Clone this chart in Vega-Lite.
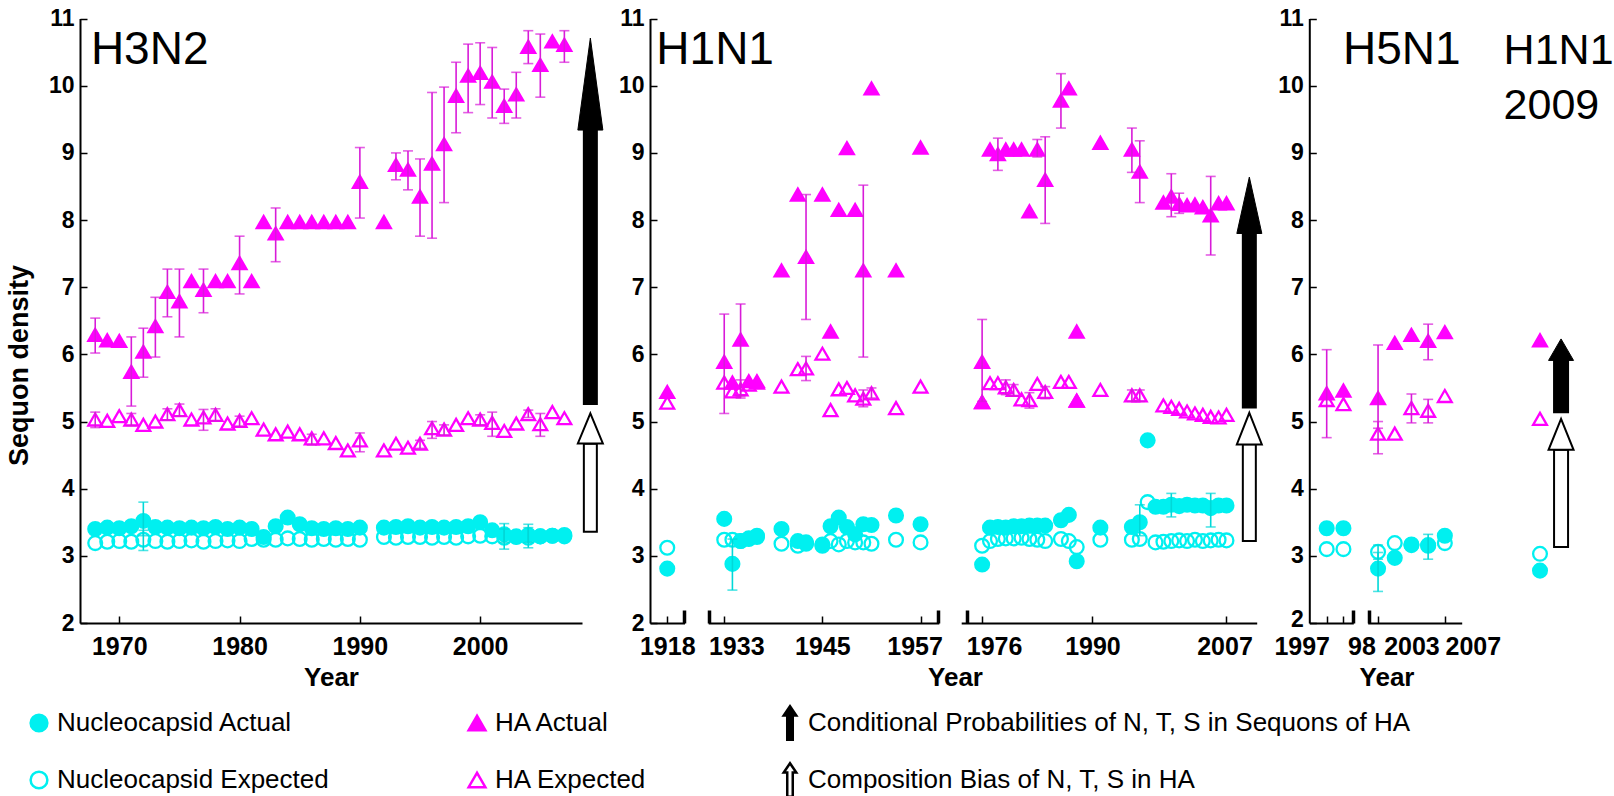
{
"$schema": "https://vega.github.io/schema/vega-lite/v6.json",
"width": 1614, "height": 623,
"autosize": {"type": "none"},
"padding": {"left": 0, "top": 0, "right": 0, "bottom": 173},
"background": "white",
"config": {
  "font": "Liberation Sans",
  "view": {"stroke": null},
  "axis": {"grid": false, "domainColor": "black", "domainWidth": 2, "tickColor": "black", "tickWidth": 1.5, "tickSize": -7,
           "labelColor": "black", "labelFontWeight": "bold", "labelOverlap": false, "labelFlush": false, "labelBound": false,
           "titleColor": "black", "titleFontWeight": "bold", "titleFontSize": 26},
  "axisX": {"labelFontSize": 25, "labelPadding": 18, "labelBaseline": "top"},
  "axisY": {"labelFontSize": 23, "labelPadding": 13}
},
"datasets": {
"points": [
{"virus":"H3N2","series":"Nucleocapsid Expected","year":1968,"value":3.19},
{"virus":"H3N2","series":"Nucleocapsid Expected","year":1969,"value":3.21},
{"virus":"H3N2","series":"Nucleocapsid Expected","year":1970,"value":3.22},
{"virus":"H3N2","series":"Nucleocapsid Expected","year":1971,"value":3.21},
{"virus":"H3N2","series":"Nucleocapsid Expected","year":1972,"value":3.24,"low":3.08,"high":3.38},
{"virus":"H3N2","series":"Nucleocapsid Expected","year":1973,"value":3.22},
{"virus":"H3N2","series":"Nucleocapsid Expected","year":1974,"value":3.21},
{"virus":"H3N2","series":"Nucleocapsid Expected","year":1975,"value":3.22},
{"virus":"H3N2","series":"Nucleocapsid Expected","year":1976,"value":3.23},
{"virus":"H3N2","series":"Nucleocapsid Expected","year":1977,"value":3.21},
{"virus":"H3N2","series":"Nucleocapsid Expected","year":1978,"value":3.22},
{"virus":"H3N2","series":"Nucleocapsid Expected","year":1979,"value":3.23},
{"virus":"H3N2","series":"Nucleocapsid Expected","year":1980,"value":3.22},
{"virus":"H3N2","series":"Nucleocapsid Expected","year":1981,"value":3.25},
{"virus":"H3N2","series":"Nucleocapsid Expected","year":1982,"value":3.24},
{"virus":"H3N2","series":"Nucleocapsid Expected","year":1983,"value":3.24},
{"virus":"H3N2","series":"Nucleocapsid Expected","year":1984,"value":3.26},
{"virus":"H3N2","series":"Nucleocapsid Expected","year":1985,"value":3.25},
{"virus":"H3N2","series":"Nucleocapsid Expected","year":1986,"value":3.24},
{"virus":"H3N2","series":"Nucleocapsid Expected","year":1987,"value":3.25},
{"virus":"H3N2","series":"Nucleocapsid Expected","year":1988,"value":3.24},
{"virus":"H3N2","series":"Nucleocapsid Expected","year":1989,"value":3.25},
{"virus":"H3N2","series":"Nucleocapsid Expected","year":1990,"value":3.24},
{"virus":"H3N2","series":"Nucleocapsid Expected","year":1992,"value":3.28},
{"virus":"H3N2","series":"Nucleocapsid Expected","year":1993,"value":3.27},
{"virus":"H3N2","series":"Nucleocapsid Expected","year":1994,"value":3.28},
{"virus":"H3N2","series":"Nucleocapsid Expected","year":1995,"value":3.28},
{"virus":"H3N2","series":"Nucleocapsid Expected","year":1996,"value":3.27},
{"virus":"H3N2","series":"Nucleocapsid Expected","year":1997,"value":3.28},
{"virus":"H3N2","series":"Nucleocapsid Expected","year":1998,"value":3.27},
{"virus":"H3N2","series":"Nucleocapsid Expected","year":1999,"value":3.29},
{"virus":"H3N2","series":"Nucleocapsid Expected","year":2000,"value":3.30},
{"virus":"H3N2","series":"Nucleocapsid Expected","year":2001,"value":3.29},
{"virus":"H3N2","series":"Nucleocapsid Expected","year":2002,"value":3.27,"low":3.10,"high":3.40},
{"virus":"H3N2","series":"Nucleocapsid Expected","year":2003,"value":3.28},
{"virus":"H3N2","series":"Nucleocapsid Expected","year":2004,"value":3.27,"low":3.12,"high":3.42},
{"virus":"H3N2","series":"Nucleocapsid Expected","year":2005,"value":3.29},
{"virus":"H3N2","series":"Nucleocapsid Expected","year":2006,"value":3.30},
{"virus":"H3N2","series":"Nucleocapsid Expected","year":2007,"value":3.29},
{"virus":"H3N2","series":"Nucleocapsid Actual","year":1968,"value":3.40},
{"virus":"H3N2","series":"Nucleocapsid Actual","year":1969,"value":3.42},
{"virus":"H3N2","series":"Nucleocapsid Actual","year":1970,"value":3.41},
{"virus":"H3N2","series":"Nucleocapsid Actual","year":1971,"value":3.44},
{"virus":"H3N2","series":"Nucleocapsid Actual","year":1972,"value":3.52,"low":3.30,"high":3.80},
{"virus":"H3N2","series":"Nucleocapsid Actual","year":1973,"value":3.43},
{"virus":"H3N2","series":"Nucleocapsid Actual","year":1974,"value":3.42},
{"virus":"H3N2","series":"Nucleocapsid Actual","year":1975,"value":3.41},
{"virus":"H3N2","series":"Nucleocapsid Actual","year":1976,"value":3.42},
{"virus":"H3N2","series":"Nucleocapsid Actual","year":1977,"value":3.41},
{"virus":"H3N2","series":"Nucleocapsid Actual","year":1978,"value":3.43},
{"virus":"H3N2","series":"Nucleocapsid Actual","year":1979,"value":3.40},
{"virus":"H3N2","series":"Nucleocapsid Actual","year":1980,"value":3.42},
{"virus":"H3N2","series":"Nucleocapsid Actual","year":1981,"value":3.40},
{"virus":"H3N2","series":"Nucleocapsid Actual","year":1982,"value":3.28},
{"virus":"H3N2","series":"Nucleocapsid Actual","year":1983,"value":3.44},
{"virus":"H3N2","series":"Nucleocapsid Actual","year":1984,"value":3.57},
{"virus":"H3N2","series":"Nucleocapsid Actual","year":1985,"value":3.47},
{"virus":"H3N2","series":"Nucleocapsid Actual","year":1986,"value":3.41},
{"virus":"H3N2","series":"Nucleocapsid Actual","year":1987,"value":3.40},
{"virus":"H3N2","series":"Nucleocapsid Actual","year":1988,"value":3.41},
{"virus":"H3N2","series":"Nucleocapsid Actual","year":1989,"value":3.40},
{"virus":"H3N2","series":"Nucleocapsid Actual","year":1990,"value":3.42},
{"virus":"H3N2","series":"Nucleocapsid Actual","year":1992,"value":3.42},
{"virus":"H3N2","series":"Nucleocapsid Actual","year":1993,"value":3.43},
{"virus":"H3N2","series":"Nucleocapsid Actual","year":1994,"value":3.44},
{"virus":"H3N2","series":"Nucleocapsid Actual","year":1995,"value":3.42},
{"virus":"H3N2","series":"Nucleocapsid Actual","year":1996,"value":3.43},
{"virus":"H3N2","series":"Nucleocapsid Actual","year":1997,"value":3.42},
{"virus":"H3N2","series":"Nucleocapsid Actual","year":1998,"value":3.43},
{"virus":"H3N2","series":"Nucleocapsid Actual","year":1999,"value":3.44},
{"virus":"H3N2","series":"Nucleocapsid Actual","year":2000,"value":3.50},
{"virus":"H3N2","series":"Nucleocapsid Actual","year":2001,"value":3.38},
{"virus":"H3N2","series":"Nucleocapsid Actual","year":2002,"value":3.32,"low":3.20,"high":3.48},
{"virus":"H3N2","series":"Nucleocapsid Actual","year":2003,"value":3.29},
{"virus":"H3N2","series":"Nucleocapsid Actual","year":2004,"value":3.31,"low":3.20,"high":3.47},
{"virus":"H3N2","series":"Nucleocapsid Actual","year":2005,"value":3.29},
{"virus":"H3N2","series":"Nucleocapsid Actual","year":2006,"value":3.30},
{"virus":"H3N2","series":"Nucleocapsid Actual","year":2007,"value":3.31},
{"virus":"H3N2","series":"HA Expected","year":1968,"value":5.03,"low":4.91,"high":5.14},
{"virus":"H3N2","series":"HA Expected","year":1969,"value":5.01},
{"virus":"H3N2","series":"HA Expected","year":1970,"value":5.08},
{"virus":"H3N2","series":"HA Expected","year":1971,"value":5.03,"low":4.94,"high":5.12},
{"virus":"H3N2","series":"HA Expected","year":1972,"value":4.95},
{"virus":"H3N2","series":"HA Expected","year":1973,"value":5.00},
{"virus":"H3N2","series":"HA Expected","year":1974,"value":5.11,"low":5.02,"high":5.19},
{"virus":"H3N2","series":"HA Expected","year":1975,"value":5.17,"low":5.08,"high":5.26},
{"virus":"H3N2","series":"HA Expected","year":1976,"value":5.03},
{"virus":"H3N2","series":"HA Expected","year":1977,"value":5.06,"low":4.87,"high":5.18},
{"virus":"H3N2","series":"HA Expected","year":1978,"value":5.10,"low":5.01,"high":5.19},
{"virus":"H3N2","series":"HA Expected","year":1979,"value":4.97},
{"virus":"H3N2","series":"HA Expected","year":1980,"value":5.01,"low":4.93,"high":5.08},
{"virus":"H3N2","series":"HA Expected","year":1981,"value":5.05},
{"virus":"H3N2","series":"HA Expected","year":1982,"value":4.88},
{"virus":"H3N2","series":"HA Expected","year":1983,"value":4.81},
{"virus":"H3N2","series":"HA Expected","year":1984,"value":4.85},
{"virus":"H3N2","series":"HA Expected","year":1985,"value":4.81},
{"virus":"H3N2","series":"HA Expected","year":1986,"value":4.75,"low":4.65,"high":4.81},
{"virus":"H3N2","series":"HA Expected","year":1987,"value":4.75},
{"virus":"H3N2","series":"HA Expected","year":1988,"value":4.68},
{"virus":"H3N2","series":"HA Expected","year":1989,"value":4.57},
{"virus":"H3N2","series":"HA Expected","year":1990,"value":4.72,"low":4.55,"high":4.83},
{"virus":"H3N2","series":"HA Expected","year":1992,"value":4.57},
{"virus":"H3N2","series":"HA Expected","year":1993,"value":4.67},
{"virus":"H3N2","series":"HA Expected","year":1994,"value":4.61},
{"virus":"H3N2","series":"HA Expected","year":1995,"value":4.67,"low":4.60,"high":4.72},
{"virus":"H3N2","series":"HA Expected","year":1996,"value":4.90,"low":4.75,"high":5.00},
{"virus":"H3N2","series":"HA Expected","year":1997,"value":4.88,"low":4.80,"high":4.95},
{"virus":"H3N2","series":"HA Expected","year":1998,"value":4.95},
{"virus":"H3N2","series":"HA Expected","year":1999,"value":5.05},
{"virus":"H3N2","series":"HA Expected","year":2000,"value":5.03,"low":4.95,"high":5.10},
{"virus":"H3N2","series":"HA Expected","year":2001,"value":4.98,"low":4.78,"high":5.14},
{"virus":"H3N2","series":"HA Expected","year":2002,"value":4.86},
{"virus":"H3N2","series":"HA Expected","year":2003,"value":4.97},
{"virus":"H3N2","series":"HA Expected","year":2004,"value":5.11,"low":5.06,"high":5.17},
{"virus":"H3N2","series":"HA Expected","year":2005,"value":4.96,"low":4.78,"high":5.12},
{"virus":"H3N2","series":"HA Expected","year":2006,"value":5.14},
{"virus":"H3N2","series":"HA Expected","year":2007,"value":5.05},
{"virus":"H3N2","series":"HA Actual","year":1968,"value":6.29,"low":6.02,"high":6.54},
{"virus":"H3N2","series":"HA Actual","year":1969,"value":6.21},
{"virus":"H3N2","series":"HA Actual","year":1970,"value":6.20},
{"virus":"H3N2","series":"HA Actual","year":1971,"value":5.74,"low":5.23,"high":6.26},
{"virus":"H3N2","series":"HA Actual","year":1972,"value":6.04,"low":5.66,"high":6.39},
{"virus":"H3N2","series":"HA Actual","year":1973,"value":6.42,"low":5.96,"high":6.85},
{"virus":"H3N2","series":"HA Actual","year":1974,"value":6.93,"low":6.56,"high":7.27},
{"virus":"H3N2","series":"HA Actual","year":1975,"value":6.79,"low":6.26,"high":7.27},
{"virus":"H3N2","series":"HA Actual","year":1976,"value":7.09},
{"virus":"H3N2","series":"HA Actual","year":1977,"value":6.96,"low":6.62,"high":7.27},
{"virus":"H3N2","series":"HA Actual","year":1978,"value":7.09},
{"virus":"H3N2","series":"HA Actual","year":1979,"value":7.09},
{"virus":"H3N2","series":"HA Actual","year":1980,"value":7.36,"low":6.90,"high":7.76},
{"virus":"H3N2","series":"HA Actual","year":1981,"value":7.09},
{"virus":"H3N2","series":"HA Actual","year":1982,"value":7.97},
{"virus":"H3N2","series":"HA Actual","year":1983,"value":7.80,"low":7.38,"high":8.18},
{"virus":"H3N2","series":"HA Actual","year":1984,"value":7.97},
{"virus":"H3N2","series":"HA Actual","year":1985,"value":7.97},
{"virus":"H3N2","series":"HA Actual","year":1986,"value":7.97},
{"virus":"H3N2","series":"HA Actual","year":1987,"value":7.97},
{"virus":"H3N2","series":"HA Actual","year":1988,"value":7.97},
{"virus":"H3N2","series":"HA Actual","year":1989,"value":7.97},
{"virus":"H3N2","series":"HA Actual","year":1990,"value":8.57,"low":8.03,"high":9.08},
{"virus":"H3N2","series":"HA Actual","year":1992,"value":7.97},
{"virus":"H3N2","series":"HA Actual","year":1993,"value":8.82,"low":8.60,"high":9.00},
{"virus":"H3N2","series":"HA Actual","year":1994,"value":8.75,"low":8.45,"high":9.03},
{"virus":"H3N2","series":"HA Actual","year":1995,"value":8.35,"low":7.76,"high":8.91},
{"virus":"H3N2","series":"HA Actual","year":1996,"value":8.84,"low":7.73,"high":9.90},
{"virus":"H3N2","series":"HA Actual","year":1997,"value":9.13,"low":8.26,"high":9.98},
{"virus":"H3N2","series":"HA Actual","year":1998,"value":9.85,"low":9.30,"high":10.35},
{"virus":"H3N2","series":"HA Actual","year":1999,"value":10.15,"low":9.60,"high":10.62},
{"virus":"H3N2","series":"HA Actual","year":2000,"value":10.19,"low":9.72,"high":10.64},
{"virus":"H3N2","series":"HA Actual","year":2001,"value":10.06,"low":9.52,"high":10.57},
{"virus":"H3N2","series":"HA Actual","year":2002,"value":9.70,"low":9.44,"high":9.95},
{"virus":"H3N2","series":"HA Actual","year":2003,"value":9.87,"low":9.52,"high":10.20},
{"virus":"H3N2","series":"HA Actual","year":2004,"value":10.58,"low":10.33,"high":10.82},
{"virus":"H3N2","series":"HA Actual","year":2005,"value":10.31,"low":9.83,"high":10.77},
{"virus":"H3N2","series":"HA Actual","year":2006,"value":10.66},
{"virus":"H3N2","series":"HA Actual","year":2007,"value":10.61,"low":10.35,"high":10.82},
{"virus":"H1N1","series":"Nucleocapsid Expected","year":1918,"value":3.12},
{"virus":"H1N1","series":"Nucleocapsid Expected","year":1933,"value":3.24},
{"virus":"H1N1","series":"Nucleocapsid Expected","year":1934,"value":3.24},
{"virus":"H1N1","series":"Nucleocapsid Expected","year":1935,"value":3.22},
{"virus":"H1N1","series":"Nucleocapsid Expected","year":1936,"value":3.26},
{"virus":"H1N1","series":"Nucleocapsid Expected","year":1937,"value":3.28},
{"virus":"H1N1","series":"Nucleocapsid Expected","year":1940,"value":3.18},
{"virus":"H1N1","series":"Nucleocapsid Expected","year":1942,"value":3.15},
{"virus":"H1N1","series":"Nucleocapsid Expected","year":1943,"value":3.18},
{"virus":"H1N1","series":"Nucleocapsid Expected","year":1945,"value":3.15},
{"virus":"H1N1","series":"Nucleocapsid Expected","year":1946,"value":3.22},
{"virus":"H1N1","series":"Nucleocapsid Expected","year":1947,"value":3.17},
{"virus":"H1N1","series":"Nucleocapsid Expected","year":1948,"value":3.22},
{"virus":"H1N1","series":"Nucleocapsid Expected","year":1949,"value":3.20},
{"virus":"H1N1","series":"Nucleocapsid Expected","year":1950,"value":3.20},
{"virus":"H1N1","series":"Nucleocapsid Expected","year":1951,"value":3.18},
{"virus":"H1N1","series":"Nucleocapsid Expected","year":1954,"value":3.24},
{"virus":"H1N1","series":"Nucleocapsid Expected","year":1957,"value":3.20},
{"virus":"H1N1","series":"Nucleocapsid Expected","year":1976,"value":3.15},
{"virus":"H1N1","series":"Nucleocapsid Expected","year":1977,"value":3.22},
{"virus":"H1N1","series":"Nucleocapsid Expected","year":1978,"value":3.25},
{"virus":"H1N1","series":"Nucleocapsid Expected","year":1979,"value":3.26},
{"virus":"H1N1","series":"Nucleocapsid Expected","year":1980,"value":3.26},
{"virus":"H1N1","series":"Nucleocapsid Expected","year":1981,"value":3.27},
{"virus":"H1N1","series":"Nucleocapsid Expected","year":1982,"value":3.25},
{"virus":"H1N1","series":"Nucleocapsid Expected","year":1983,"value":3.24},
{"virus":"H1N1","series":"Nucleocapsid Expected","year":1984,"value":3.22},
{"virus":"H1N1","series":"Nucleocapsid Expected","year":1986,"value":3.25},
{"virus":"H1N1","series":"Nucleocapsid Expected","year":1987,"value":3.22},
{"virus":"H1N1","series":"Nucleocapsid Expected","year":1988,"value":3.13},
{"virus":"H1N1","series":"Nucleocapsid Expected","year":1991,"value":3.24},
{"virus":"H1N1","series":"Nucleocapsid Expected","year":1995,"value":3.24},
{"virus":"H1N1","series":"Nucleocapsid Expected","year":1996,"value":3.25},
{"virus":"H1N1","series":"Nucleocapsid Expected","year":1997,"value":3.80},
{"virus":"H1N1","series":"Nucleocapsid Expected","year":1998,"value":3.20},
{"virus":"H1N1","series":"Nucleocapsid Expected","year":1999,"value":3.21},
{"virus":"H1N1","series":"Nucleocapsid Expected","year":2000,"value":3.22},
{"virus":"H1N1","series":"Nucleocapsid Expected","year":2001,"value":3.23},
{"virus":"H1N1","series":"Nucleocapsid Expected","year":2002,"value":3.22},
{"virus":"H1N1","series":"Nucleocapsid Expected","year":2003,"value":3.24},
{"virus":"H1N1","series":"Nucleocapsid Expected","year":2004,"value":3.22},
{"virus":"H1N1","series":"Nucleocapsid Expected","year":2005,"value":3.23},
{"virus":"H1N1","series":"Nucleocapsid Expected","year":2006,"value":3.24},
{"virus":"H1N1","series":"Nucleocapsid Expected","year":2007,"value":3.23},
{"virus":"H1N1","series":"Nucleocapsid Actual","year":1918,"value":2.81},
{"virus":"H1N1","series":"Nucleocapsid Actual","year":1933,"value":3.55},
{"virus":"H1N1","series":"Nucleocapsid Actual","year":1934,"value":2.88,"low":2.49,"high":3.25},
{"virus":"H1N1","series":"Nucleocapsid Actual","year":1935,"value":3.22},
{"virus":"H1N1","series":"Nucleocapsid Actual","year":1936,"value":3.25},
{"virus":"H1N1","series":"Nucleocapsid Actual","year":1937,"value":3.30},
{"virus":"H1N1","series":"Nucleocapsid Actual","year":1940,"value":3.40},
{"virus":"H1N1","series":"Nucleocapsid Actual","year":1942,"value":3.22},
{"virus":"H1N1","series":"Nucleocapsid Actual","year":1943,"value":3.20},
{"virus":"H1N1","series":"Nucleocapsid Actual","year":1945,"value":3.17},
{"virus":"H1N1","series":"Nucleocapsid Actual","year":1946,"value":3.44},
{"virus":"H1N1","series":"Nucleocapsid Actual","year":1947,"value":3.57},
{"virus":"H1N1","series":"Nucleocapsid Actual","year":1948,"value":3.43},
{"virus":"H1N1","series":"Nucleocapsid Actual","year":1949,"value":3.32},
{"virus":"H1N1","series":"Nucleocapsid Actual","year":1950,"value":3.47},
{"virus":"H1N1","series":"Nucleocapsid Actual","year":1951,"value":3.46},
{"virus":"H1N1","series":"Nucleocapsid Actual","year":1954,"value":3.60},
{"virus":"H1N1","series":"Nucleocapsid Actual","year":1957,"value":3.47},
{"virus":"H1N1","series":"Nucleocapsid Actual","year":1976,"value":2.87},
{"virus":"H1N1","series":"Nucleocapsid Actual","year":1977,"value":3.42},
{"virus":"H1N1","series":"Nucleocapsid Actual","year":1978,"value":3.43},
{"virus":"H1N1","series":"Nucleocapsid Actual","year":1979,"value":3.42},
{"virus":"H1N1","series":"Nucleocapsid Actual","year":1980,"value":3.44},
{"virus":"H1N1","series":"Nucleocapsid Actual","year":1981,"value":3.44},
{"virus":"H1N1","series":"Nucleocapsid Actual","year":1982,"value":3.45},
{"virus":"H1N1","series":"Nucleocapsid Actual","year":1983,"value":3.45},
{"virus":"H1N1","series":"Nucleocapsid Actual","year":1984,"value":3.45},
{"virus":"H1N1","series":"Nucleocapsid Actual","year":1986,"value":3.53},
{"virus":"H1N1","series":"Nucleocapsid Actual","year":1987,"value":3.61},
{"virus":"H1N1","series":"Nucleocapsid Actual","year":1988,"value":2.92},
{"virus":"H1N1","series":"Nucleocapsid Actual","year":1991,"value":3.42},
{"virus":"H1N1","series":"Nucleocapsid Actual","year":1995,"value":3.43},
{"virus":"H1N1","series":"Nucleocapsid Actual","year":1996,"value":3.50,"low":3.30,"high":3.76},
{"virus":"H1N1","series":"Nucleocapsid Actual","year":1997,"value":4.72},
{"virus":"H1N1","series":"Nucleocapsid Actual","year":1998,"value":3.73},
{"virus":"H1N1","series":"Nucleocapsid Actual","year":1999,"value":3.73},
{"virus":"H1N1","series":"Nucleocapsid Actual","year":2000,"value":3.76,"low":3.58,"high":3.93},
{"virus":"H1N1","series":"Nucleocapsid Actual","year":2001,"value":3.74},
{"virus":"H1N1","series":"Nucleocapsid Actual","year":2002,"value":3.76},
{"virus":"H1N1","series":"Nucleocapsid Actual","year":2003,"value":3.75},
{"virus":"H1N1","series":"Nucleocapsid Actual","year":2004,"value":3.75},
{"virus":"H1N1","series":"Nucleocapsid Actual","year":2005,"value":3.71,"low":3.43,"high":3.93},
{"virus":"H1N1","series":"Nucleocapsid Actual","year":2006,"value":3.75},
{"virus":"H1N1","series":"Nucleocapsid Actual","year":2007,"value":3.75},
{"virus":"H1N1","series":"HA Expected","year":1918,"value":5.28},
{"virus":"H1N1","series":"HA Expected","year":1933,"value":5.58},
{"virus":"H1N1","series":"HA Expected","year":1934,"value":5.45},
{"virus":"H1N1","series":"HA Expected","year":1935,"value":5.48,"low":5.38,"high":5.62},
{"virus":"H1N1","series":"HA Expected","year":1936,"value":5.55},
{"virus":"H1N1","series":"HA Expected","year":1937,"value":5.58},
{"virus":"H1N1","series":"HA Expected","year":1940,"value":5.52},
{"virus":"H1N1","series":"HA Expected","year":1942,"value":5.78},
{"virus":"H1N1","series":"HA Expected","year":1943,"value":5.79,"low":5.61,"high":5.97},
{"virus":"H1N1","series":"HA Expected","year":1945,"value":6.01},
{"virus":"H1N1","series":"HA Expected","year":1946,"value":5.17},
{"virus":"H1N1","series":"HA Expected","year":1947,"value":5.48},
{"virus":"H1N1","series":"HA Expected","year":1948,"value":5.50},
{"virus":"H1N1","series":"HA Expected","year":1949,"value":5.39},
{"virus":"H1N1","series":"HA Expected","year":1950,"value":5.34,"low":5.22,"high":5.47},
{"virus":"H1N1","series":"HA Expected","year":1951,"value":5.42,"low":5.35,"high":5.50},
{"virus":"H1N1","series":"HA Expected","year":1954,"value":5.20},
{"virus":"H1N1","series":"HA Expected","year":1957,"value":5.52},
{"virus":"H1N1","series":"HA Expected","year":1976,"value":5.29},
{"virus":"H1N1","series":"HA Expected","year":1977,"value":5.57},
{"virus":"H1N1","series":"HA Expected","year":1978,"value":5.57},
{"virus":"H1N1","series":"HA Expected","year":1979,"value":5.51,"low":5.40,"high":5.62},
{"virus":"H1N1","series":"HA Expected","year":1980,"value":5.47,"low":5.38,"high":5.55},
{"virus":"H1N1","series":"HA Expected","year":1981,"value":5.33},
{"virus":"H1N1","series":"HA Expected","year":1982,"value":5.32,"low":5.20,"high":5.43},
{"virus":"H1N1","series":"HA Expected","year":1983,"value":5.56},
{"virus":"H1N1","series":"HA Expected","year":1984,"value":5.44,"low":5.34,"high":5.52},
{"virus":"H1N1","series":"HA Expected","year":1986,"value":5.59},
{"virus":"H1N1","series":"HA Expected","year":1987,"value":5.59},
{"virus":"H1N1","series":"HA Expected","year":1988,"value":5.31},
{"virus":"H1N1","series":"HA Expected","year":1991,"value":5.47},
{"virus":"H1N1","series":"HA Expected","year":1995,"value":5.39,"low":5.30,"high":5.47},
{"virus":"H1N1","series":"HA Expected","year":1996,"value":5.39,"low":5.30,"high":5.47},
{"virus":"H1N1","series":"HA Expected","year":1999,"value":5.24},
{"virus":"H1N1","series":"HA Expected","year":2000,"value":5.22},
{"virus":"H1N1","series":"HA Expected","year":2001,"value":5.19},
{"virus":"H1N1","series":"HA Expected","year":2002,"value":5.15},
{"virus":"H1N1","series":"HA Expected","year":2003,"value":5.12},
{"virus":"H1N1","series":"HA Expected","year":2004,"value":5.10},
{"virus":"H1N1","series":"HA Expected","year":2005,"value":5.07},
{"virus":"H1N1","series":"HA Expected","year":2006,"value":5.06},
{"virus":"H1N1","series":"HA Expected","year":2007,"value":5.10},
{"virus":"H1N1","series":"HA Actual","year":1918,"value":5.44},
{"virus":"H1N1","series":"HA Actual","year":1933,"value":5.89,"low":5.12,"high":6.60},
{"virus":"H1N1","series":"HA Actual","year":1934,"value":5.58},
{"virus":"H1N1","series":"HA Actual","year":1935,"value":6.22,"low":5.35,"high":6.75},
{"virus":"H1N1","series":"HA Actual","year":1936,"value":5.60},
{"virus":"H1N1","series":"HA Actual","year":1937,"value":5.60},
{"virus":"H1N1","series":"HA Actual","year":1940,"value":7.25},
{"virus":"H1N1","series":"HA Actual","year":1942,"value":8.38},
{"virus":"H1N1","series":"HA Actual","year":1943,"value":7.45,"low":6.52,"high":8.38},
{"virus":"H1N1","series":"HA Actual","year":1945,"value":8.38},
{"virus":"H1N1","series":"HA Actual","year":1946,"value":6.34},
{"virus":"H1N1","series":"HA Actual","year":1947,"value":8.15},
{"virus":"H1N1","series":"HA Actual","year":1948,"value":9.07},
{"virus":"H1N1","series":"HA Actual","year":1949,"value":8.15},
{"virus":"H1N1","series":"HA Actual","year":1950,"value":7.25,"low":5.96,"high":8.52},
{"virus":"H1N1","series":"HA Actual","year":1951,"value":9.96},
{"virus":"H1N1","series":"HA Actual","year":1954,"value":7.25},
{"virus":"H1N1","series":"HA Actual","year":1957,"value":9.08},
{"virus":"H1N1","series":"HA Actual","year":1976,"value":5.89,"low":5.30,"high":6.52},
{"virus":"H1N1","series":"HA Actual","year":1976,"value":5.29},
{"virus":"H1N1","series":"HA Actual","year":1977,"value":9.05},
{"virus":"H1N1","series":"HA Actual","year":1978,"value":8.98,"low":8.74,"high":9.22},
{"virus":"H1N1","series":"HA Actual","year":1979,"value":9.05},
{"virus":"H1N1","series":"HA Actual","year":1980,"value":9.05},
{"virus":"H1N1","series":"HA Actual","year":1981,"value":9.05},
{"virus":"H1N1","series":"HA Actual","year":1982,"value":8.13},
{"virus":"H1N1","series":"HA Actual","year":1983,"value":9.05,"low":8.94,"high":9.20},
{"virus":"H1N1","series":"HA Actual","year":1984,"value":8.60,"low":7.95,"high":9.24},
{"virus":"H1N1","series":"HA Actual","year":1986,"value":9.78,"low":9.37,"high":10.18},
{"virus":"H1N1","series":"HA Actual","year":1987,"value":9.96},
{"virus":"H1N1","series":"HA Actual","year":1988,"value":6.34},
{"virus":"H1N1","series":"HA Actual","year":1988,"value":5.31},
{"virus":"H1N1","series":"HA Actual","year":1991,"value":9.15},
{"virus":"H1N1","series":"HA Actual","year":1995,"value":9.05,"low":8.71,"high":9.37},
{"virus":"H1N1","series":"HA Actual","year":1996,"value":8.72,"low":8.26,"high":9.18},
{"virus":"H1N1","series":"HA Actual","year":1999,"value":8.26},
{"virus":"H1N1","series":"HA Actual","year":2000,"value":8.35,"low":8.05,"high":8.69},
{"virus":"H1N1","series":"HA Actual","year":2001,"value":8.24,"low":8.10,"high":8.40},
{"virus":"H1N1","series":"HA Actual","year":2002,"value":8.22},
{"virus":"H1N1","series":"HA Actual","year":2003,"value":8.23},
{"virus":"H1N1","series":"HA Actual","year":2004,"value":8.19},
{"virus":"H1N1","series":"HA Actual","year":2005,"value":8.07,"low":7.48,"high":8.65},
{"virus":"H1N1","series":"HA Actual","year":2006,"value":8.25},
{"virus":"H1N1","series":"HA Actual","year":2007,"value":8.25},
{"virus":"H5N1","series":"Nucleocapsid Expected","year":1997,"value":3.10},
{"virus":"H5N1","series":"Nucleocapsid Expected","year":1998,"value":3.10},
{"virus":"H5N1","series":"Nucleocapsid Expected","year":2001,"value":3.06,"low":2.95,"high":3.16},
{"virus":"H5N1","series":"Nucleocapsid Expected","year":2002,"value":3.19},
{"virus":"H5N1","series":"Nucleocapsid Expected","year":2003,"value":3.17},
{"virus":"H5N1","series":"Nucleocapsid Expected","year":2004,"value":3.15},
{"virus":"H5N1","series":"Nucleocapsid Expected","year":2005,"value":3.19},
{"virus":"H5N1","series":"Nucleocapsid Actual","year":1997,"value":3.41},
{"virus":"H5N1","series":"Nucleocapsid Actual","year":1998,"value":3.41},
{"virus":"H5N1","series":"Nucleocapsid Actual","year":2001,"value":2.81,"low":2.47,"high":3.05},
{"virus":"H5N1","series":"Nucleocapsid Actual","year":2002,"value":2.97},
{"virus":"H5N1","series":"Nucleocapsid Actual","year":2003,"value":3.16},
{"virus":"H5N1","series":"Nucleocapsid Actual","year":2004,"value":3.16,"low":2.95,"high":3.32},
{"virus":"H5N1","series":"Nucleocapsid Actual","year":2005,"value":3.30},
{"virus":"H5N1","series":"HA Expected","year":1997,"value":5.32},
{"virus":"H5N1","series":"HA Expected","year":1998,"value":5.26},
{"virus":"H5N1","series":"HA Expected","year":2001,"value":4.82,"low":4.52,"high":5.0},
{"virus":"H5N1","series":"HA Expected","year":2002,"value":4.82},
{"virus":"H5N1","series":"HA Expected","year":2003,"value":5.20,"low":4.98,"high":5.41},
{"virus":"H5N1","series":"HA Expected","year":2004,"value":5.16,"low":4.98,"high":5.33},
{"virus":"H5N1","series":"HA Expected","year":2005,"value":5.38},
{"virus":"H5N1","series":"HA Actual","year":1997,"value":5.42,"low":4.76,"high":6.07},
{"virus":"H5N1","series":"HA Actual","year":1998,"value":5.46},
{"virus":"H5N1","series":"HA Actual","year":2001,"value":5.35,"low":4.9,"high":6.14},
{"virus":"H5N1","series":"HA Actual","year":2002,"value":6.17},
{"virus":"H5N1","series":"HA Actual","year":2003,"value":6.29},
{"virus":"H5N1","series":"HA Actual","year":2004,"value":6.20,"low":5.92,"high":6.45},
{"virus":"H5N1","series":"HA Actual","year":2005,"value":6.33},
{"virus":"H1N1 2009","series":"Nucleocapsid Expected","year":2009,"value":3.03},
{"virus":"H1N1 2009","series":"Nucleocapsid Actual","year":2009,"value":2.78},
{"virus":"H1N1 2009","series":"HA Expected","year":2009,"value":5.04},
{"virus":"H1N1 2009","series":"HA Actual","year":2009,"value":6.21}
],
"arrows": [
{"panel":"H3N2","series":"Cond","year":2009.16,"base":5.26,"headBase":9.34,"tip":10.71},
{"panel":"H3N2","series":"Comp","year":2009.16,"base":3.36,"headBase":4.67,"tip":5.12},
{"panel":"H1N1","series":"Cond","year":2009.9,"base":5.21,"headBase":7.8,"tip":8.64},
{"panel":"H1N1","series":"Comp","year":2009.9,"base":3.22,"headBase":4.66,"tip":5.13},
{"panel":"H1N1 2009","series":"Cond","year":2010.8,"base":5.14,"headBase":5.91,"tip":6.23},
{"panel":"H1N1 2009","series":"Comp","year":2010.8,"base":3.13,"headBase":4.58,"tip":5.04}
],
"titles": [
{"panel":"H3N2","text":"H3N2","year":1967.64,"value":10.32},
{"panel":"H1N1","text":"H1N1","year":1924.7,"value":10.32},
{"panel":"H5N1","text":"H5N1","year":1997.97,"value":10.32},
{"panel":"H1N1 2009","text":"H1N1","year":2005.89,"value":10.32},
{"panel":"H1N1 2009","text":"2009","year":2005.89,"value":9.5}
],
"legend": [
{"col":0,"row":0,"series":"Nucleocapsid Actual","label":"Nucleocapsid Actual"},
{"col":0,"row":1,"series":"Nucleocapsid Expected","label":"Nucleocapsid Expected"},
{"col":1,"row":0,"series":"HA Actual","label":"HA Actual"},
{"col":1,"row":1,"series":"HA Expected","label":"HA Expected"},
{"col":2,"row":0,"series":"Cond","label":"Conditional Probabilities of N, T, S in Sequons of HA"},
{"col":2,"row":1,"series":"Comp","label":"Composition Bias of N, T, S in HA"}
]
},
"resolve": {"scale": {"x": "independent", "y": "independent"}},
"layer": [
{
 "encoding": {
  "x": {"field": "year", "type": "quantitative", "scale": {"domain": [1967.15, 2008.05], "range": [80, 582], "nice": false, "zero": false},
        "axis": {"orient": "bottom", "values": [1970, 1980, 1990, 2000], "format": "d", "title": "Year", "titleY": 62, "titleBaseline": "alphabetic"}},
  "y": {"field": "value", "type": "quantitative", "scale": {"domain": [2, 11], "range": [623, 18.6], "nice": false, "zero": false},
        "axis": {"orient": "left", "offset": -80, "values": [2,3,4,5,6,7,8,9,10,11], "title": "Sequon density", "titleX": -61, "titleY": 365, "titleAngle": -90, "titleAlign": "center", "titleBaseline": "middle", "titleFontSize": 27}}
 },
 "layer": [
  {"data": {"name": "points"}, "transform": [{"filter": "datum.virus == 'H3N2'"}],
   "mark": {"type": "point", "size": 190, "strokeWidth": 2.3, "opacity": 1},
   "encoding": {
    "shape": {"field": "series", "type": "nominal", "scale": {"domain": ["Nucleocapsid Actual","Nucleocapsid Expected","HA Actual","HA Expected","Cond","Comp"], "range": ["circle","circle","triangle-up","triangle-up","M0,-2L0.75,-0.9L0.33,-0.9L0.33,2L-0.33,2L-0.33,-0.9L-0.75,-0.9Z","M0,-2L0.75,-0.9L0.33,-0.9L0.33,2L-0.33,2L-0.33,-0.9L-0.75,-0.9Z"]}, "legend": null},
    "fill": {"field": "series", "type": "nominal", "scale": {"domain": ["Nucleocapsid Actual","Nucleocapsid Expected","HA Actual","HA Expected","Cond","Comp"], "range": ["#00F0F0","transparent","#FF00FF","transparent","black","white"]}, "legend": null},
    "stroke": {"field": "series", "type": "nominal", "scale": {"domain": ["Nucleocapsid Actual","Nucleocapsid Expected","HA Actual","HA Expected","Cond","Comp"], "range": ["#00F0F0","#00F0F0","#FF00FF","#FF00FF","black","black"]}, "legend": null}}},
  {"data": {"name": "points"}, "transform": [{"filter": "datum.virus == 'H3N2' && isValid(datum.low)"}],
   "mark": {"type": "errorbar", "ticks": true, "size": 10, "thickness": 1.6},
   "encoding": {
    "y": {"field": "low", "type": "quantitative", "scale": {"domain": [2, 11], "range": [623, 18.6], "nice": false, "zero": false},
          "axis": {"orient": "left", "offset": -80, "values": [2,3,4,5,6,7,8,9,10,11], "title": "Sequon density", "titleX": -61, "titleY": 365, "titleAngle": -90, "titleAlign": "center", "titleBaseline": "middle", "titleFontSize": 27}},
    "y2": {"field": "high"},
    "color": {"field": "series", "type": "nominal", "scale": {"domain": ["Nucleocapsid Actual","Nucleocapsid Expected","HA Actual","HA Expected"], "range": ["#00D8D8","#00D8D8","#D81BD8","#D81BD8"]}, "legend": null}}},
  {"data": {"name": "arrows"}, "transform": [{"filter": "datum.panel == 'H3N2'"}],
   "mark": {"type": "bar", "size": 13, "stroke": "black", "strokeWidth": 2},
   "encoding": {
    "y": {"field": "base", "type": "quantitative", "scale": {"domain": [2, 11], "range": [623, 18.6], "nice": false, "zero": false},
          "axis": {"orient": "left", "offset": -80, "values": [2,3,4,5,6,7,8,9,10,11], "title": "Sequon density", "titleX": -61, "titleY": 365, "titleAngle": -90, "titleAlign": "center", "titleBaseline": "middle", "titleFontSize": 27}},
    "y2": {"field": "headBase"},
    "fill": {"field": "series", "type": "nominal", "scale": {"domain": ["Nucleocapsid Actual","Nucleocapsid Expected","HA Actual","HA Expected","Cond","Comp"], "range": ["#00F0F0","transparent","#FF00FF","transparent","black","white"]}, "legend": null}}},
  {"data": {"name": "arrows"}, "transform": [{"filter": "datum.panel == 'H3N2' && datum.series == 'Cond'"}],
   "mark": {"type": "point", "shape": "M0,0L12.5,92L-12.5,92Z", "size": 4, "filled": true, "fill": "black", "stroke": "black", "strokeWidth": 1, "opacity": 1},
   "encoding": {
    "y": {"field": "tip", "type": "quantitative", "scale": {"domain": [2, 11], "range": [623, 18.6], "nice": false, "zero": false},
          "axis": {"orient": "left", "offset": -80, "values": [2,3,4,5,6,7,8,9,10,11], "title": "Sequon density", "titleX": -61, "titleY": 365, "titleAngle": -90, "titleAlign": "center", "titleBaseline": "middle", "titleFontSize": 27}}}},
  {"data": {"name": "arrows"}, "transform": [{"filter": "datum.panel == 'H3N2' && datum.series == 'Comp'"}],
   "mark": {"type": "point", "shape": "M0,0L12.5,30L-12.5,30Z", "size": 4, "filled": true, "fill": "white", "stroke": "black", "strokeWidth": 2, "opacity": 1},
   "encoding": {
    "y": {"field": "tip", "type": "quantitative", "scale": {"domain": [2, 11], "range": [623, 18.6], "nice": false, "zero": false},
          "axis": {"orient": "left", "offset": -80, "values": [2,3,4,5,6,7,8,9,10,11], "title": "Sequon density", "titleX": -61, "titleY": 365, "titleAngle": -90, "titleAlign": "center", "titleBaseline": "middle", "titleFontSize": 27}}}},
  {"data": {"name": "titles"}, "transform": [{"filter": "datum.panel == 'H3N2'"}],
   "mark": {"type": "text", "align": "left", "baseline": "alphabetic", "fontSize": 46, "color": "black"},
   "encoding": {"text": {"field": "text"}}}
 ]
},
{
 "encoding": {
  "x": {"field": "year", "type": "quantitative", "scale": {"domain": [1915.9, 1920.1], "range": [650, 684.5], "nice": false, "zero": false},
        "axis": {"orient": "bottom", "values": [1918, 1920.05], "format": "d", "labelExpr": "datum.value == 1918 ? datum.label : ''",
                 "tickSize": {"condition": {"test": "datum.value > 1919", "value": -13}, "value": -7},
                 "tickWidth": {"condition": {"test": "datum.value > 1919", "value": 3.5}, "value": 1.5}, "title": null}},
  "y": {"field": "value", "type": "quantitative", "scale": {"domain": [2, 11], "range": [623, 18.6], "nice": false, "zero": false},
        "axis": {"orient": "left", "offset": -650, "values": [2,3,4,5,6,7,8,9,10,11], "title": null}}
 },
 "layer": [
  {"data": {"name": "points"}, "transform": [{"filter": "datum.virus == 'H1N1' && datum.year < 1925"}],
   "mark": {"type": "point", "size": 190, "strokeWidth": 2.3, "opacity": 1},
   "encoding": {
    "shape": {"field": "series", "type": "nominal", "scale": {"domain": ["Nucleocapsid Actual","Nucleocapsid Expected","HA Actual","HA Expected","Cond","Comp"], "range": ["circle","circle","triangle-up","triangle-up","M0,-2L0.75,-0.9L0.33,-0.9L0.33,2L-0.33,2L-0.33,-0.9L-0.75,-0.9Z","M0,-2L0.75,-0.9L0.33,-0.9L0.33,2L-0.33,2L-0.33,-0.9L-0.75,-0.9Z"]}, "legend": null},
    "fill": {"field": "series", "type": "nominal", "scale": {"domain": ["Nucleocapsid Actual","Nucleocapsid Expected","HA Actual","HA Expected","Cond","Comp"], "range": ["#00F0F0","transparent","#FF00FF","transparent","black","white"]}, "legend": null},
    "stroke": {"field": "series", "type": "nominal", "scale": {"domain": ["Nucleocapsid Actual","Nucleocapsid Expected","HA Actual","HA Expected","Cond","Comp"], "range": ["#00F0F0","#00F0F0","#FF00FF","#FF00FF","black","black"]}, "legend": null}}}
 ]
},
{
 "encoding": {
  "x": {"field": "year", "type": "quantitative", "scale": {"domain": [1931.04, 1959.23], "range": [708.2, 938.8], "nice": false, "zero": false},
        "axis": {"orient": "bottom", "values": [1931.09, 1933, 1945, 1957, 1959.18], "format": "d",
                 "labelExpr": "datum.value == 1933 || datum.value == 1945 || datum.value == 1957 ? datum.label : ''",
                 "labelOffset": {"condition": [{"test": "datum.value == 1933", "value": 12}, {"test": "datum.value == 1957", "value": -6}], "value": 0},
                 "tickSize": {"condition": {"test": "datum.value < 1932 || datum.value > 1959", "value": -13}, "value": -7},
                 "tickWidth": {"condition": {"test": "datum.value < 1932 || datum.value > 1959", "value": 3.5}, "value": 1.5},
                 "title": "Year", "titleX": 955, "titleY": 62, "titleBaseline": "alphabetic"}},
  "y": {"field": "value", "type": "quantitative", "scale": {"domain": [2, 11], "range": [623, 18.6], "nice": false, "zero": false}, "axis": null}
 },
 "layer": [
  {"data": {"name": "points"}, "transform": [{"filter": "datum.virus == 'H1N1' && datum.year > 1925 && datum.year < 1965"}],
   "mark": {"type": "point", "size": 190, "strokeWidth": 2.3, "opacity": 1},
   "encoding": {
    "shape": {"field": "series", "type": "nominal", "scale": {"domain": ["Nucleocapsid Actual","Nucleocapsid Expected","HA Actual","HA Expected","Cond","Comp"], "range": ["circle","circle","triangle-up","triangle-up","M0,-2L0.75,-0.9L0.33,-0.9L0.33,2L-0.33,2L-0.33,-0.9L-0.75,-0.9Z","M0,-2L0.75,-0.9L0.33,-0.9L0.33,2L-0.33,2L-0.33,-0.9L-0.75,-0.9Z"]}, "legend": null},
    "fill": {"field": "series", "type": "nominal", "scale": {"domain": ["Nucleocapsid Actual","Nucleocapsid Expected","HA Actual","HA Expected","Cond","Comp"], "range": ["#00F0F0","transparent","#FF00FF","transparent","black","white"]}, "legend": null},
    "stroke": {"field": "series", "type": "nominal", "scale": {"domain": ["Nucleocapsid Actual","Nucleocapsid Expected","HA Actual","HA Expected","Cond","Comp"], "range": ["#00F0F0","#00F0F0","#FF00FF","#FF00FF","black","black"]}, "legend": null}}},
  {"data": {"name": "points"}, "transform": [{"filter": "datum.virus == 'H1N1' && datum.year > 1925 && datum.year < 1965 && isValid(datum.low)"}],
   "mark": {"type": "errorbar", "ticks": true, "size": 10, "thickness": 1.6},
   "encoding": {
    "y": {"field": "low", "type": "quantitative", "scale": {"domain": [2, 11], "range": [623, 18.6], "nice": false, "zero": false}, "axis": null},
    "y2": {"field": "high"},
    "color": {"field": "series", "type": "nominal", "scale": {"domain": ["Nucleocapsid Actual","Nucleocapsid Expected","HA Actual","HA Expected"], "range": ["#00D8D8","#00D8D8","#D81BD8","#D81BD8"]}, "legend": null}}},
  {"data": {"name": "titles"}, "transform": [{"filter": "datum.panel == 'H1N1'"}],
   "mark": {"type": "text", "align": "left", "baseline": "alphabetic", "fontSize": 46, "color": "black"},
   "encoding": {"text": {"field": "text"}}}
 ]
},
{
 "encoding": {
  "x": {"field": "year", "type": "quantitative", "scale": {"domain": [1973.98, 2010.2], "range": [961.2, 1256.7], "nice": false, "zero": false},
        "axis": {"orient": "bottom", "values": [1974.03, 1976, 1990, 2007], "format": "d",
                 "labelExpr": "datum.value > 1975 ? datum.label : ''",
                 "labelOffset": {"condition": [{"test": "datum.value == 1976", "value": 12}, {"test": "datum.value == 2007", "value": -2}], "value": 0},
                 "tickSize": {"condition": {"test": "datum.value < 1975", "value": -13}, "value": -7},
                 "tickWidth": {"condition": {"test": "datum.value < 1975", "value": 3.5}, "value": 1.5},
                 "title": null}},
  "y": {"field": "value", "type": "quantitative", "scale": {"domain": [2, 11], "range": [623, 18.6], "nice": false, "zero": false}, "axis": null}
 },
 "layer": [
  {"data": {"name": "points"}, "transform": [{"filter": "datum.virus == 'H1N1' && datum.year > 1965"}],
   "mark": {"type": "point", "size": 190, "strokeWidth": 2.3, "opacity": 1},
   "encoding": {
    "shape": {"field": "series", "type": "nominal", "scale": {"domain": ["Nucleocapsid Actual","Nucleocapsid Expected","HA Actual","HA Expected","Cond","Comp"], "range": ["circle","circle","triangle-up","triangle-up","M0,-2L0.75,-0.9L0.33,-0.9L0.33,2L-0.33,2L-0.33,-0.9L-0.75,-0.9Z","M0,-2L0.75,-0.9L0.33,-0.9L0.33,2L-0.33,2L-0.33,-0.9L-0.75,-0.9Z"]}, "legend": null},
    "fill": {"field": "series", "type": "nominal", "scale": {"domain": ["Nucleocapsid Actual","Nucleocapsid Expected","HA Actual","HA Expected","Cond","Comp"], "range": ["#00F0F0","transparent","#FF00FF","transparent","black","white"]}, "legend": null},
    "stroke": {"field": "series", "type": "nominal", "scale": {"domain": ["Nucleocapsid Actual","Nucleocapsid Expected","HA Actual","HA Expected","Cond","Comp"], "range": ["#00F0F0","#00F0F0","#FF00FF","#FF00FF","black","black"]}, "legend": null}}},
  {"data": {"name": "points"}, "transform": [{"filter": "datum.virus == 'H1N1' && datum.year > 1965 && isValid(datum.low)"}],
   "mark": {"type": "errorbar", "ticks": true, "size": 10, "thickness": 1.6},
   "encoding": {
    "y": {"field": "low", "type": "quantitative", "scale": {"domain": [2, 11], "range": [623, 18.6], "nice": false, "zero": false}, "axis": null},
    "y2": {"field": "high"},
    "color": {"field": "series", "type": "nominal", "scale": {"domain": ["Nucleocapsid Actual","Nucleocapsid Expected","HA Actual","HA Expected"], "range": ["#00D8D8","#00D8D8","#D81BD8","#D81BD8"]}, "legend": null}}},
  {"data": {"name": "arrows"}, "transform": [{"filter": "datum.panel == 'H1N1'"}],
   "mark": {"type": "bar", "size": 13, "stroke": "black", "strokeWidth": 2},
   "encoding": {
    "y": {"field": "base", "type": "quantitative", "scale": {"domain": [2, 11], "range": [623, 18.6], "nice": false, "zero": false}, "axis": null},
    "y2": {"field": "headBase"},
    "fill": {"field": "series", "type": "nominal", "scale": {"domain": ["Nucleocapsid Actual","Nucleocapsid Expected","HA Actual","HA Expected","Cond","Comp"], "range": ["#00F0F0","transparent","#FF00FF","transparent","black","white"]}, "legend": null}}},
  {"data": {"name": "arrows"}, "transform": [{"filter": "datum.panel == 'H1N1' && datum.series == 'Cond'"}],
   "mark": {"type": "point", "shape": "M0,0L12.5,56.4L-12.5,56.4Z", "size": 4, "filled": true, "fill": "black", "stroke": "black", "strokeWidth": 1, "opacity": 1},
   "encoding": {"y": {"field": "tip", "type": "quantitative", "scale": {"domain": [2, 11], "range": [623, 18.6], "nice": false, "zero": false}, "axis": null}}},
  {"data": {"name": "arrows"}, "transform": [{"filter": "datum.panel == 'H1N1' && datum.series == 'Comp'"}],
   "mark": {"type": "point", "shape": "M0,0L12.5,31.6L-12.5,31.6Z", "size": 4, "filled": true, "fill": "white", "stroke": "black", "strokeWidth": 2, "opacity": 1},
   "encoding": {"y": {"field": "tip", "type": "quantitative", "scale": {"domain": [2, 11], "range": [623, 18.6], "nice": false, "zero": false}, "axis": null}}}
 ]
},
{
 "encoding": {
  "x": {"field": "year", "type": "quantitative", "scale": {"domain": [1995.96, 1998.59], "range": [1309.3, 1353.3], "nice": false, "zero": false},
        "axis": {"orient": "bottom", "values": [1997, 1998, 1998.55], "format": "d",
                 "labelExpr": "datum.value == 1997 ? '1997' : datum.value == 1998 ? '98' : ''",
                 "labelOffset": {"condition": [{"test": "datum.value == 1997", "value": -25}, {"test": "datum.value == 1998", "value": 18}], "value": 0},
                 "tickSize": {"condition": {"test": "datum.value > 1998.3", "value": -13}, "value": -7},
                 "tickWidth": {"condition": {"test": "datum.value > 1998.3", "value": 3.5}, "value": 1.5},
                 "title": "Year", "titleX": 1386.5, "titleY": 62, "titleBaseline": "alphabetic"}},
  "y": {"field": "value", "type": "quantitative", "scale": {"domain": [2, 11], "range": [623, 18.6], "nice": false, "zero": false},
        "axis": {"orient": "left", "offset": -1309.3, "values": [2,3,4,5,6,7,8,9,10,11], "title": null,
                 "labelOffset": {"condition": {"test": "datum.value == 2", "value": -4}, "value": 0}}}
 },
 "layer": [
  {"data": {"name": "points"}, "transform": [{"filter": "datum.virus == 'H5N1' && datum.year < 1999.5"}],
   "mark": {"type": "point", "size": 190, "strokeWidth": 2.3, "opacity": 1},
   "encoding": {
    "shape": {"field": "series", "type": "nominal", "scale": {"domain": ["Nucleocapsid Actual","Nucleocapsid Expected","HA Actual","HA Expected","Cond","Comp"], "range": ["circle","circle","triangle-up","triangle-up","M0,-2L0.75,-0.9L0.33,-0.9L0.33,2L-0.33,2L-0.33,-0.9L-0.75,-0.9Z","M0,-2L0.75,-0.9L0.33,-0.9L0.33,2L-0.33,2L-0.33,-0.9L-0.75,-0.9Z"]}, "legend": null},
    "fill": {"field": "series", "type": "nominal", "scale": {"domain": ["Nucleocapsid Actual","Nucleocapsid Expected","HA Actual","HA Expected","Cond","Comp"], "range": ["#00F0F0","transparent","#FF00FF","transparent","black","white"]}, "legend": null},
    "stroke": {"field": "series", "type": "nominal", "scale": {"domain": ["Nucleocapsid Actual","Nucleocapsid Expected","HA Actual","HA Expected","Cond","Comp"], "range": ["#00F0F0","#00F0F0","#FF00FF","#FF00FF","black","black"]}, "legend": null}}},
  {"data": {"name": "points"}, "transform": [{"filter": "datum.virus == 'H5N1' && datum.year < 1999.5 && isValid(datum.low)"}],
   "mark": {"type": "errorbar", "ticks": true, "size": 10, "thickness": 1.6},
   "encoding": {
    "y": {"field": "low", "type": "quantitative", "scale": {"domain": [2, 11], "range": [623, 18.6], "nice": false, "zero": false},
          "axis": {"orient": "left", "offset": -1309.3, "values": [2,3,4,5,6,7,8,9,10,11], "title": null,
                   "labelOffset": {"condition": {"test": "datum.value == 2", "value": -4}, "value": 0}}},
    "y2": {"field": "high"},
    "color": {"field": "series", "type": "nominal", "scale": {"domain": ["Nucleocapsid Actual","Nucleocapsid Expected","HA Actual","HA Expected"], "range": ["#00D8D8","#00D8D8","#D81BD8","#D81BD8"]}, "legend": null}}},
  {"data": {"name": "titles"}, "transform": [{"filter": "datum.panel == 'H5N1'"}],
   "mark": {"type": "text", "align": "left", "baseline": "alphabetic", "fontSize": 46, "color": "black"},
   "encoding": {"text": {"field": "text"}}}
 ]
},
{
 "encoding": {
  "x": {"field": "year", "type": "quantitative", "scale": {"domain": [2000.38, 2006.01], "range": [1367.7, 1461.7], "nice": false, "zero": false},
        "axis": {"orient": "bottom", "values": [2000.43, 2001, 2003, 2005], "format": "d",
                 "labelExpr": "datum.value == 2003 ? '2003' : datum.value == 2005 ? '2007' : ''",
                 "labelOffset": {"condition": {"test": "datum.value == 2005", "value": 28}, "value": 0},
                 "tickOpacity": {"condition": {"test": "datum.value == 2003", "value": 0}, "value": 1},
                 "tickSize": {"condition": {"test": "datum.value < 2000.6", "value": -13}, "value": -7},
                 "tickWidth": {"condition": {"test": "datum.value < 2000.6", "value": 3.5}, "value": 1.5},
                 "title": null}},
  "y": {"field": "value", "type": "quantitative", "scale": {"domain": [2, 11], "range": [623, 18.6], "nice": false, "zero": false}, "axis": null}
 },
 "layer": [
  {"data": {"name": "points"}, "transform": [{"filter": "datum.virus == 'H5N1' && datum.year > 1999.5"}],
   "mark": {"type": "point", "size": 190, "strokeWidth": 2.3, "opacity": 1},
   "encoding": {
    "shape": {"field": "series", "type": "nominal", "scale": {"domain": ["Nucleocapsid Actual","Nucleocapsid Expected","HA Actual","HA Expected","Cond","Comp"], "range": ["circle","circle","triangle-up","triangle-up","M0,-2L0.75,-0.9L0.33,-0.9L0.33,2L-0.33,2L-0.33,-0.9L-0.75,-0.9Z","M0,-2L0.75,-0.9L0.33,-0.9L0.33,2L-0.33,2L-0.33,-0.9L-0.75,-0.9Z"]}, "legend": null},
    "fill": {"field": "series", "type": "nominal", "scale": {"domain": ["Nucleocapsid Actual","Nucleocapsid Expected","HA Actual","HA Expected","Cond","Comp"], "range": ["#00F0F0","transparent","#FF00FF","transparent","black","white"]}, "legend": null},
    "stroke": {"field": "series", "type": "nominal", "scale": {"domain": ["Nucleocapsid Actual","Nucleocapsid Expected","HA Actual","HA Expected","Cond","Comp"], "range": ["#00F0F0","#00F0F0","#FF00FF","#FF00FF","black","black"]}, "legend": null}}},
  {"data": {"name": "points"}, "transform": [{"filter": "datum.virus == 'H5N1' && datum.year > 1999.5 && isValid(datum.low)"}],
   "mark": {"type": "errorbar", "ticks": true, "size": 10, "thickness": 1.6},
   "encoding": {
    "y": {"field": "low", "type": "quantitative", "scale": {"domain": [2, 11], "range": [623, 18.6], "nice": false, "zero": false}, "axis": null},
    "y2": {"field": "high"},
    "color": {"field": "series", "type": "nominal", "scale": {"domain": ["Nucleocapsid Actual","Nucleocapsid Expected","HA Actual","HA Expected"], "range": ["#00D8D8","#00D8D8","#D81BD8","#D81BD8"]}, "legend": null}}}
 ]
},
{
 "encoding": {
  "x": {"field": "year", "type": "quantitative", "scale": {"domain": [2008, 2010], "range": [1523.3, 1556.7], "nice": false, "zero": false}, "axis": null},
  "y": {"field": "value", "type": "quantitative", "scale": {"domain": [2, 11], "range": [623, 18.6], "nice": false, "zero": false}, "axis": null}
 },
 "layer": [
  {"data": {"name": "points"}, "transform": [{"filter": "datum.virus == 'H1N1 2009'"}],
   "mark": {"type": "point", "size": 190, "strokeWidth": 2.3, "opacity": 1},
   "encoding": {
    "shape": {"field": "series", "type": "nominal", "scale": {"domain": ["Nucleocapsid Actual","Nucleocapsid Expected","HA Actual","HA Expected","Cond","Comp"], "range": ["circle","circle","triangle-up","triangle-up","M0,-2L0.75,-0.9L0.33,-0.9L0.33,2L-0.33,2L-0.33,-0.9L-0.75,-0.9Z","M0,-2L0.75,-0.9L0.33,-0.9L0.33,2L-0.33,2L-0.33,-0.9L-0.75,-0.9Z"]}, "legend": null},
    "fill": {"field": "series", "type": "nominal", "scale": {"domain": ["Nucleocapsid Actual","Nucleocapsid Expected","HA Actual","HA Expected","Cond","Comp"], "range": ["#00F0F0","transparent","#FF00FF","transparent","black","white"]}, "legend": null},
    "stroke": {"field": "series", "type": "nominal", "scale": {"domain": ["Nucleocapsid Actual","Nucleocapsid Expected","HA Actual","HA Expected","Cond","Comp"], "range": ["#00F0F0","#00F0F0","#FF00FF","#FF00FF","black","black"]}, "legend": null}}},
  {"data": {"name": "arrows"}, "transform": [{"filter": "datum.panel == 'H1N1 2009'"}],
   "mark": {"type": "bar", "size": 14, "stroke": "black", "strokeWidth": 2},
   "encoding": {
    "y": {"field": "base", "type": "quantitative", "scale": {"domain": [2, 11], "range": [623, 18.6], "nice": false, "zero": false}, "axis": null},
    "y2": {"field": "headBase"},
    "fill": {"field": "series", "type": "nominal", "scale": {"domain": ["Nucleocapsid Actual","Nucleocapsid Expected","HA Actual","HA Expected","Cond","Comp"], "range": ["#00F0F0","transparent","#FF00FF","transparent","black","white"]}, "legend": null}}},
  {"data": {"name": "arrows"}, "transform": [{"filter": "datum.panel == 'H1N1 2009' && datum.series == 'Cond'"}],
   "mark": {"type": "point", "shape": "M0,0L12.5,21.5L-12.5,21.5Z", "size": 4, "filled": true, "fill": "black", "stroke": "black", "strokeWidth": 1, "opacity": 1},
   "encoding": {"y": {"field": "tip", "type": "quantitative", "scale": {"domain": [2, 11], "range": [623, 18.6], "nice": false, "zero": false}, "axis": null}}},
  {"data": {"name": "arrows"}, "transform": [{"filter": "datum.panel == 'H1N1 2009' && datum.series == 'Comp'"}],
   "mark": {"type": "point", "shape": "M0,0L12.5,31L-12.5,31Z", "size": 4, "filled": true, "fill": "white", "stroke": "black", "strokeWidth": 2, "opacity": 1},
   "encoding": {"y": {"field": "tip", "type": "quantitative", "scale": {"domain": [2, 11], "range": [623, 18.6], "nice": false, "zero": false}, "axis": null}}},
  {"data": {"name": "titles"}, "transform": [{"filter": "datum.panel == 'H1N1 2009'"}],
   "mark": {"type": "text", "align": "left", "baseline": "alphabetic", "fontSize": 43, "color": "black"},
   "encoding": {"text": {"field": "text"}}}
 ]
},
{
 "data": {"name": "legend"},
 "encoding": {
  "x": {"field": "col", "type": "quantitative", "scale": {"domain": [0, 1, 2], "range": [39, 477, 790], "nice": false, "zero": false}, "axis": null},
  "y": {"field": "row", "type": "quantitative", "scale": {"domain": [0, 1], "range": [723, 780], "nice": false, "zero": false}, "axis": null}
 },
 "layer": [
  {"mark": {"type": "point", "size": 280, "strokeWidth": 2.5, "opacity": 1},
   "encoding": {
    "shape": {"field": "series", "type": "nominal", "scale": {"domain": ["Nucleocapsid Actual","Nucleocapsid Expected","HA Actual","HA Expected","Cond","Comp"], "range": ["circle","circle","triangle-up","triangle-up","M0,-2L0.75,-0.9L0.33,-0.9L0.33,2L-0.33,2L-0.33,-0.9L-0.75,-0.9Z","M0,-2L0.75,-0.9L0.33,-0.9L0.33,2L-0.33,2L-0.33,-0.9L-0.75,-0.9Z"]}, "legend": null},
    "fill": {"field": "series", "type": "nominal", "scale": {"domain": ["Nucleocapsid Actual","Nucleocapsid Expected","HA Actual","HA Expected","Cond","Comp"], "range": ["#00F0F0","transparent","#FF00FF","transparent","black","white"]}, "legend": null},
    "stroke": {"field": "series", "type": "nominal", "scale": {"domain": ["Nucleocapsid Actual","Nucleocapsid Expected","HA Actual","HA Expected","Cond","Comp"], "range": ["#00F0F0","#00F0F0","#FF00FF","#FF00FF","black","black"]}, "legend": null}}},
  {"mark": {"type": "text", "align": "left", "baseline": "middle", "dx": 18, "fontSize": 26, "color": "black"},
   "encoding": {"text": {"field": "label"}}}
 ]
}
]
}
